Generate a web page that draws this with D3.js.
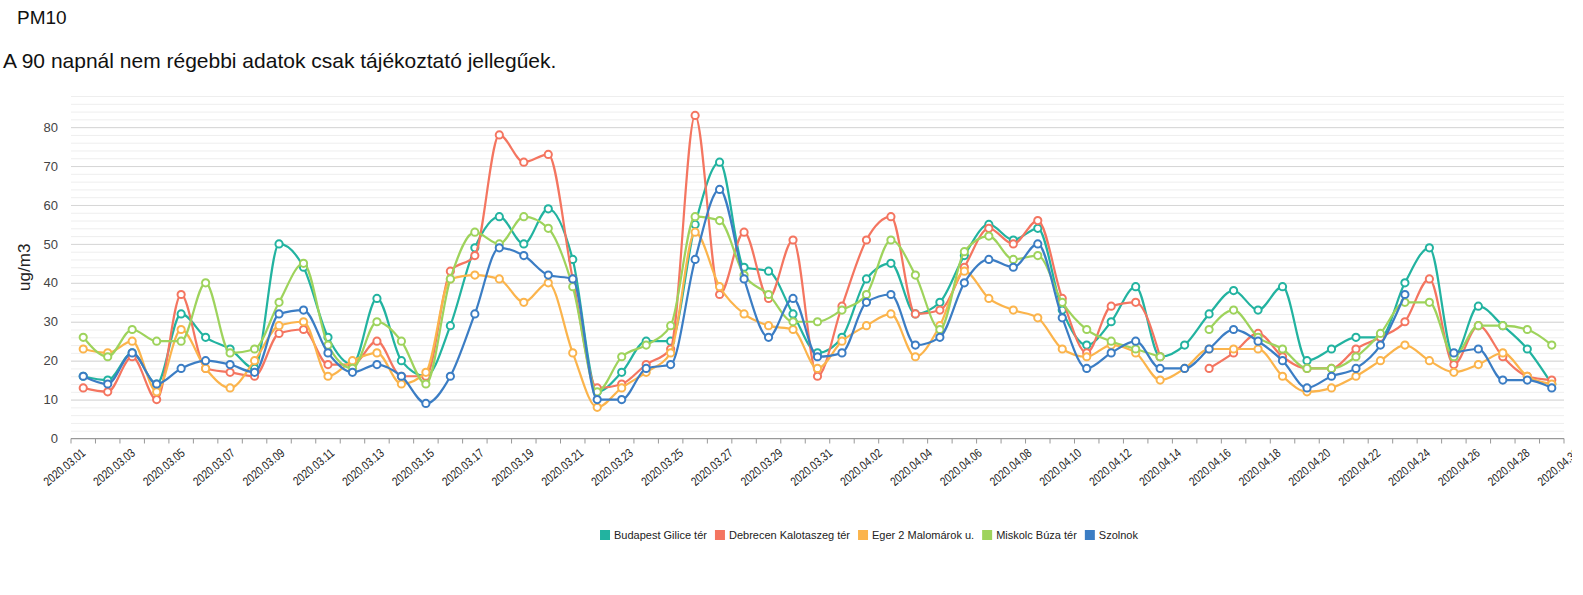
<!DOCTYPE html>
<html><head><meta charset="utf-8">
<script src="https://cdn.jsdelivr.net/npm/d3@7/dist/d3.min.js"></script>
<style>
body{margin:0;background:#fff;}
svg text{font-family:"Liberation Sans",Arial,sans-serif;}
</style></head><body>
<svg id="c" width="1583" height="595"></svg>
<script>
const dates = ["2020.03.01","2020.03.02","2020.03.03","2020.03.04","2020.03.05","2020.03.06","2020.03.07","2020.03.08","2020.03.09","2020.03.10",
"2020.03.11","2020.03.12","2020.03.13","2020.03.14","2020.03.15","2020.03.16","2020.03.17","2020.03.18","2020.03.19","2020.03.20",
"2020.03.21","2020.03.22","2020.03.23","2020.03.24","2020.03.25","2020.03.26","2020.03.27","2020.03.28","2020.03.29","2020.03.30","2020.03.31",
"2020.04.01","2020.04.02","2020.04.03","2020.04.04","2020.04.05","2020.04.06","2020.04.07","2020.04.08","2020.04.09","2020.04.10",
"2020.04.11","2020.04.12","2020.04.13","2020.04.14","2020.04.15","2020.04.16","2020.04.17","2020.04.18","2020.04.19","2020.04.20",
"2020.04.21","2020.04.22","2020.04.23","2020.04.24","2020.04.25","2020.04.26","2020.04.27","2020.04.28","2020.04.29","2020.04.30"];

const seriesNames = ["Budapest Gilice tér","Debrecen Kalotaszeg tér","Eger 2 Malomárok u.","Miskolc Búza tér","Szolnok"];
const seriesColors = ["#22b3a0","#f47560","#fbb44c","#9ed35c","#3b7dc4"];

const budapest = [16,15,22,14,32,26,23,18,50,44,26,19,36,20,16,29,49,57,50,59,46,12,17,25,25,55,71,44,43,32,22,
26,41,45,32,35,47,55,51,54,33,24,30,39,21,24,32,38,33,39,20,23,26,26,40,49,21,34,29,23,14];
const debrecen = [13,12,21,10,37,18,17,16,27,28,19,19,25,16,16,43,47,78,71,73,41,13,14,19,23,83,37,53,36,51,16,
34,51,57,32,33,44,54,50,56,36,22,34,35,21,null,18,22,27,21,18,18,23,26,30,41,19,29,21,16,15];
const eger = [23,22,25,12,28,18,13,20,29,30,16,20,22,14,17,41,42,41,35,40,22,8,13,17,22,53,39,32,29,28,18,
25,29,32,21,29,43,36,33,31,23,21,24,22,15,18,23,23,23,16,12,13,16,20,24,20,17,19,22,16,14];
const miskolc = [26,21,28,25,25,40,22,23,35,45,24,18,30,25,14,41,53,50,57,54,39,12,21,24,29,57,56,42,37,30,30,
33,37,51,42,28,48,52,46,47,35,28,25,23,21,null,28,33,26,23,18,18,21,27,35,35,21,29,29,28,24];
const szolnok = [16,14,22,14,18,20,19,17,32,33,22,17,19,16,9,16,32,49,47,42,41,10,10,18,19,46,64,41,26,36,21,
22,35,37,24,26,40,46,44,50,31,18,22,25,18,18,23,28,25,20,13,16,18,24,37,null,22,23,15,15,13];

const seriesValues = [budapest, debrecen, eger, miskolc, szolnok];
const yMajorTicks = [0,10,20,30,40,50,60,70,80];
const yMinorTicks = d3.range(0, 89, 2);
const xLabelDates = dates.filter((d,i)=> i % 2 === 0);

const svg = d3.select("#c");
svg.append("text").attr("x",17).attr("y",24).attr("font-size",19).attr("fill","#111").text("PM10");
svg.append("text").attr("x",3).attr("y",68).attr("font-size",21).attr("fill","#111")
   .text("A 90 napnál nem régebbi adatok csak tájékoztató jellegűek.");

const chart = svg.append("svg").attr("width",1572).attr("height",595).attr("overflow","hidden");

const pLeft = 71, pRight = 1564, pTop = 96, pBottom = 438.5;
const x = d3.scaleBand().domain(dates).range([pLeft,pRight]).padding(0);
const xLab = d3.scaleBand().domain(dates).range([pLeft, pRight + 26]).padding(0);
const y = d3.scaleLinear().domain([0,88]).range([pBottom,pTop]);
const bw = x.bandwidth();

chart.append("g").attr("transform",`translate(${pLeft},0)`)
  .call(d3.axisLeft(y).tickValues(yMinorTicks).tickSize(-(pRight-pLeft)).tickFormat(""))
  .call(g=>g.select(".domain").remove())
  .call(g=>g.selectAll("line").attr("stroke","#eeeeee").attr("stroke-width",1));
chart.append("g").attr("transform",`translate(${pLeft},0)`)
  .call(d3.axisLeft(y).tickValues(yMajorTicks).tickSize(-(pRight-pLeft)).tickFormat(""))
  .call(g=>g.select(".domain").remove())
  .call(g=>g.selectAll("line").attr("stroke","#d6d6d6").attr("stroke-width",1));
chart.append("g").attr("transform",`translate(${pLeft-13},0)`)
  .call(d3.axisLeft(y).tickValues(yMajorTicks).tickSize(0).tickPadding(0))
  .call(g=>g.select(".domain").remove())
  .call(g=>g.selectAll("text").attr("font-size",13).attr("fill","#444"));
chart.append("text").attr("transform",`translate(30,${(pTop+pBottom)/2}) rotate(-90)`)
  .attr("text-anchor","middle").attr("font-size",17).attr("fill","#222").text("ug/m3");

const xg = chart.append("g");
xg.append("line").attr("x1",pLeft).attr("x2",pRight).attr("y1",pBottom).attr("y2",pBottom).attr("stroke","#999");
xg.selectAll("line.tk").data(dates.concat([null])).join("line").attr("class","tk")
  .attr("x1",(d)=> d===null? pRight : x(d)).attr("x2",(d)=> d===null? pRight : x(d))
  .attr("y1",pBottom).attr("y2",pBottom+5).attr("stroke","#999");
chart.append("g").attr("transform",`translate(0,${pBottom})`)
  .call(d3.axisBottom(xLab).tickValues(xLabelDates).tickSize(0))
  .call(g=>g.select(".domain").remove())
  .call(g=>g.selectAll("text").attr("font-size",12.5).attr("fill","#222")
     .attr("text-anchor","end").attr("x",0).attr("y",0).attr("dy","0.35em")
     .attr("transform","translate(0,12.5) rotate(-40) scale(0.8,1)"));

const line = d3.line().defined(v=>v!==null)
  .x((v,i)=> x(dates[i]) + bw/2).y(v=> y(v)).curve(d3.curveMonotoneX);
seriesValues.forEach((vals,si)=>{
  const g = chart.append("g");
  g.append("path").datum(vals).attr("d",line).attr("fill","none")
    .attr("stroke",seriesColors[si]).attr("stroke-width",2.2);
  g.selectAll("circle").data(vals.map((v,i)=>({v,i})).filter(d=>d.v!==null)).join("circle")
    .attr("cx",d=> x(dates[d.i]) + bw/2).attr("cy",d=> y(d.v)).attr("r",3.6)
    .attr("fill","#fff").attr("stroke",seriesColors[si]).attr("stroke-width",2);
});

const lg = chart.append("g");
const fs = 11;
const items = seriesNames.map((n,i)=>({n,c:seriesColors[i]}));
let xpos = 0;
const itemsG = lg.selectAll("g").data(items).join("g");
itemsG.append("rect").attr("width",10).attr("height",10).attr("y",-5).attr("fill",d=>d.c);
itemsG.append("text").attr("x",14).attr("dy","0.35em").attr("font-size",fs).attr("fill","#222").text(d=>d.n);
itemsG.each(function(){
  const w = 14 + this.querySelector("text").getComputedTextLength();
  d3.select(this).attr("transform",`translate(${xpos},0)`);
  xpos += w + 8;
});
const totalW = xpos - 8;
lg.attr("transform",`translate(${869 - totalW/2},535)`);
</script>
</body></html>
